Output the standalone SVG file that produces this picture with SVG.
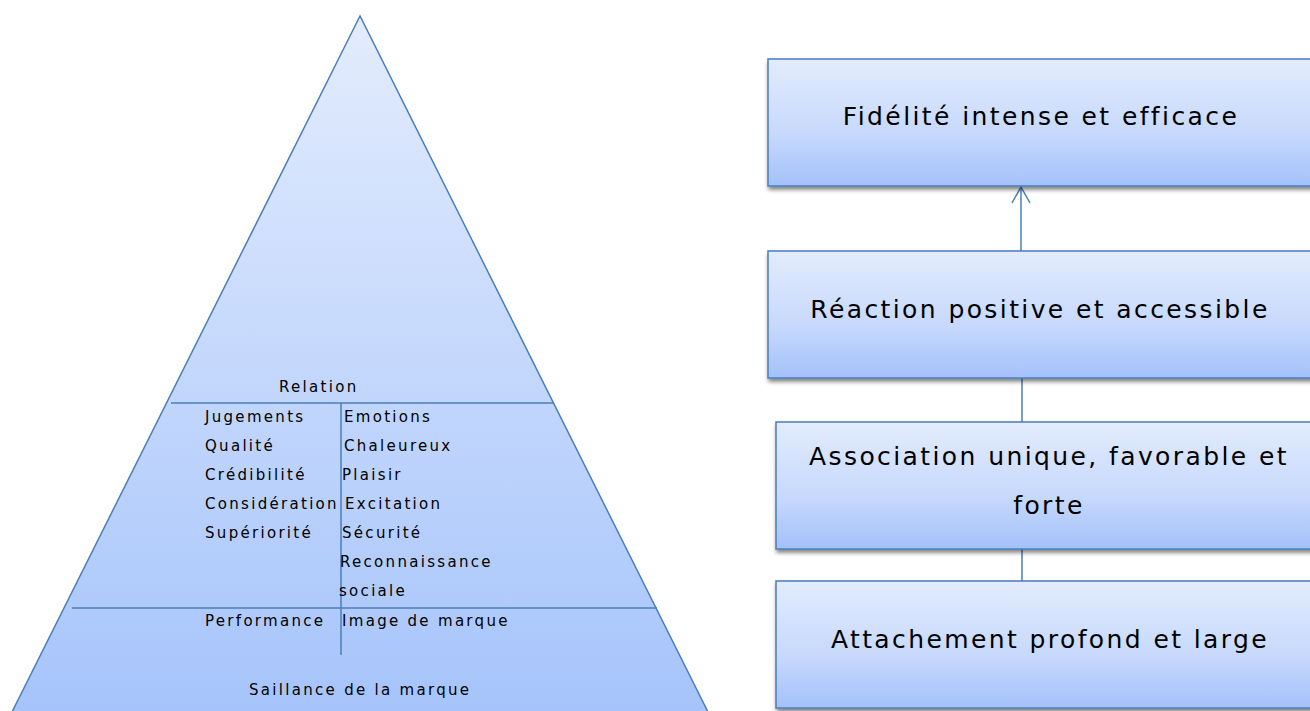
<svg xmlns="http://www.w3.org/2000/svg" width="1310" height="711" viewBox="0 0 1310 711">
<defs>
<linearGradient id="gPyr" x1="0" y1="0" x2="0" y2="1">
<stop offset="0" stop-color="#e3ecfd"/>
<stop offset="1" stop-color="#a6c4fb"/>
</linearGradient>
<linearGradient id="gBox" x1="0" y1="0" x2="0" y2="1">
<stop offset="0" stop-color="#e3ecfd"/>
<stop offset="0.6" stop-color="#c6d8fc"/>
<stop offset="1" stop-color="#a3c1fa"/>
</linearGradient>
<filter id="sh" x="-5%" y="-10%" width="115%" height="130%">
<feGaussianBlur in="SourceAlpha" stdDeviation="2"/>
<feOffset dx="1" dy="3" result="b"/>
<feComponentTransfer><feFuncA type="linear" slope="0.5"/></feComponentTransfer>
<feMerge><feMergeNode/><feMergeNode in="SourceGraphic"/></feMerge>
</filter>
<marker id="arr" viewBox="0 0 20 20" refX="18" refY="10" markerWidth="20" markerHeight="20" markerUnits="userSpaceOnUse" orient="auto">
<path d="M2,1 L18,10 L2,19" fill="none" stroke="#4a7ebb" stroke-width="1.5"/>
</marker>
</defs>
<style>
.edge{stroke:#4a7ebb;stroke-width:1.5;fill:none}
.box{fill:url(#gBox);stroke:#4a7ebb;stroke-width:1.5}
.sm{font-family:"DejaVu Sans",Verdana,sans-serif;font-size:15px;letter-spacing:2.3px;fill:#000}
.lg{font-family:"DejaVu Sans",Verdana,sans-serif;font-size:25px;letter-spacing:2.4px;fill:#000;text-anchor:middle}
</style>
<rect width="1310" height="711" fill="#ffffff"/>
<g id="pyramid">
<polygon points="360,16 12,712 708,712" fill="url(#gPyr)" stroke="#4a7ebb" stroke-width="1.5"/>
<line class="edge" x1="171" y1="403" x2="553" y2="403"/>
<line class="edge" x1="72" y1="608" x2="657" y2="608"/>
<line class="edge" x1="341" y1="403" x2="341" y2="655"/>
<text class="sm" x="279" y="392">Relation</text>
<text class="sm" x="205" y="422">Jugements</text>
<text class="sm" x="205" y="451">Qualité</text>
<text class="sm" x="205" y="480">Crédibilité</text>
<text class="sm" x="205" y="509">Considération</text>
<text class="sm" x="205" y="538">Supériorité</text>
<text class="sm" x="344" y="422">Emotions</text>
<text class="sm" x="344" y="451">Chaleureux</text>
<text class="sm" x="342" y="480">Plaisir</text>
<text class="sm" x="345" y="509">Excitation</text>
<text class="sm" x="342" y="538">Sécurité</text>
<text class="sm" x="340" y="567">Reconnaissance</text>
<text class="sm" x="339" y="596">sociale</text>
<text class="sm" x="205" y="626">Performance</text>
<text class="sm" x="342" y="626">Image de marque</text>
<text class="sm" x="249" y="695">Saillance de la marque</text>
</g>
<g id="connectors">
<line class="edge" x1="1021" y1="251" x2="1021" y2="187" marker-end="url(#arr)"/>
<line class="edge" x1="1022" y1="378" x2="1022" y2="422"/>
<line class="edge" x1="1022" y1="549" x2="1022" y2="581"/>
</g>
<g id="node-fidelite">
<rect class="box" x="768" y="59" width="545" height="127" filter="url(#sh)"/>
<text class="lg" x="1041" y="125">Fidélité intense et efficace</text>
</g>
<g id="node-reaction">
<rect class="box" x="768" y="251" width="545" height="127" filter="url(#sh)"/>
<text class="lg" x="1040" y="318">Réaction positive et accessible</text>
</g>
<g id="node-association">
<rect class="box" x="776" y="422" width="545" height="127" filter="url(#sh)"/>
<text class="lg" x="1049" y="465">Association unique, favorable et</text>
<text class="lg" x="1049" y="514">forte</text>
</g>
<g id="node-attachement">
<rect class="box" x="776" y="581" width="545" height="127" filter="url(#sh)"/>
<text class="lg" x="1050" y="648">Attachement profond et large</text>
</g>
</svg>
